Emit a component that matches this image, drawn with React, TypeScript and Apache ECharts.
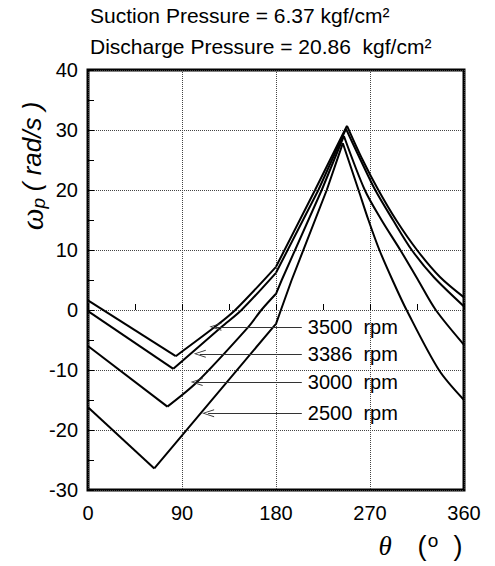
import React, { useEffect, useRef } from "react";
import * as echarts from "echarts";

const speeds = ["3500", "3386", "3000", "2500"];

const theta3500 = [0, 84, 121.6, 141, 180, 217.4, 248, 263, 278, 295, 315, 337, 360];
const omega3500 = [1.6, -7.7, -2.8, 0, 7.2, 20, 30.7, 25, 20, 15, 10, 5.5, 2.1];

const theta3386 = [0, 81.7, 128, 147, 180, 220.6, 247, 261, 275, 292, 310, 331, 360];
const omega3386 = [-0.2, -9.8, -2.8, 0, 6.2, 20, 30.2, 25, 20, 15, 10, 5.5, 0.6];

const theta3000 = [0, 76, 104.4, 153.6, 166, 180, 185.5, 223.8, 245, 265, 281, 299, 316, 333, 360];
const omega3000 = [-6, -16.1, -12, -2.8, 0, 2.7, 5, 20, 29, 20, 15, 10, 5, 0, -5.8];

const theta2500 = [0, 63.5, 177.5, 180, 184.7, 195, 228.6, 244, 259, 268.5, 279, 291.5, 305, 336, 360];
const omega2500 = [-16.2, -26.4, -2.8, -2.3, 0, 5, 20, 27.8, 20, 15, 10, 5, 0, -10, -15];

// annotation arrows: [tip theta, omega], tail theta
const arrowTips = [[122, -2.8], [107, -7.3], [104, -12], [115, -17.2]];
const arrowTail = 204.7;

const xTicks = [0, 90, 180, 270, 360];
const yTicks = [-30, -20, -10, 0, 10, 20, 30, 40];

const FONT = "'Liberation Sans', Arial, Helvetica, sans-serif";
const SERIF = "'Liberation Serif', 'DejaVu Serif', serif";

function zip(xs: number[], ys: number[]) {
  return xs.map((x, i) => [x, ys[i]]);
}

// split a curve at its kinks (minimum, 180 deg, peak)
function segments(xs: number[], ys: number[]) {
  const iMin = ys.indexOf(Math.min(...ys));
  const i180 = xs.indexOf(180);
  const iMax = ys.indexOf(Math.max(...ys));
  const cuts = [0, iMin, i180, iMax, xs.length - 1];
  const pts = zip(xs, ys);
  const segs: number[][][] = [];
  for (let k = 0; k < cuts.length - 1; k++) {
    segs.push(pts.slice(cuts[k], cuts[k + 1] + 1));
  }
  return segs;
}

export default function App() {
  const ref = useRef<HTMLDivElement>(null);
  useEffect(() => {
    if (!ref.current) return;
    const chart = echarts.init(ref.current, undefined, { renderer: "svg" });
    const curves = [
      segments(theta3500, omega3500),
      segments(theta3386, omega3386),
      segments(theta3000, omega3000),
      segments(theta2500, omega2500),
    ];
    const arrowPath = "path://M5,0L10,12L8.8,12L5,2.4L1.2,12L0,12Z";
    const series: any[] = [];
    curves.forEach((segs, i) => {
      segs.forEach((d, k) => {
        const doSmooth = (k === 1 && d.length >= 4) || k === 3;
        const s: any = {
          type: "line",
          data: d,
          showSymbol: false,
          symbol: "none",
          smooth: doSmooth ? 0.3 : false,
          lineStyle: { color: "#000", width: 2 },
          z: 3,
        };
        if (k === 0) {
          s.markLine = {
            silent: true,
            animation: false,
            symbol: [arrowPath, "none"],
            symbolSize: [8, 12],
            lineStyle: { color: "#333", width: 1, type: "solid" },
            label: {
              show: true,
              position: "end",
              distance: 6,
              formatter: speeds[i] + "  rpm",
              color: "#000",
              fontSize: 20,
              fontFamily: FONT,
            },
            data: [
              [
                { coord: [arrowTips[i][0], arrowTips[i][1]] },
                { coord: [arrowTail, arrowTips[i][1]] },
              ],
            ],
          };
        }
        series.push(s);
      });
    });
    chart.setOption({
      animation: false,
      backgroundColor: "#fff",
      grid: {
        left: 88,
        right: 31,
        top: 70,
        bottom: 76,
        show: true,
        borderColor: "#000",
        borderWidth: 3,
        containLabel: false,
      },
      xAxis: {
        type: "value",
        min: 0,
        max: 360,
        interval: 90,
        axisLine: { show: false },
        axisTick: { show: true, inside: true, length: 6, lineStyle: { color: "#000" } },
        minorTick: { show: true, splitNumber: 2, length: 6, lineStyle: { color: "#000" } },
        splitLine: { show: true, lineStyle: { color: "#444", type: "dotted", width: 1 } },
        axisLabel: {
          color: "#000",
          fontSize: 20,
          fontFamily: FONT,
          margin: 13,
          formatter: (v: number) => (xTicks.includes(v) ? String(v) : ""),
        },
      },
      yAxis: {
        type: "value",
        min: -30,
        max: 40,
        interval: 10,
        axisLine: { show: false },
        axisTick: { show: true, inside: true, length: 6, lineStyle: { color: "#000" } },
        minorTick: { show: true, splitNumber: 2, length: 6, lineStyle: { color: "#000" } },
        splitLine: { show: true, lineStyle: { color: "#444", type: "dotted", width: 1 } },
        axisLabel: {
          color: "#000",
          fontSize: 20,
          fontFamily: FONT,
          margin: 10,
          formatter: (v: number) => (yTicks.includes(v) ? String(v) : ""),
        },
      },
      series,
      graphic: [
        {
          type: "text",
          left: 90,
          top: 5,
          style: {
            text: "Suction Pressure = 6.37 kgf/cm²",
            fontSize: 21,
            fontFamily: FONT,
            fill: "#000",
          },
        },
        {
          type: "text",
          left: 90,
          top: 36,
          style: {
            text: "Discharge Pressure = 20.86  kgf/cm²",
            fontSize: 21,
            fontFamily: FONT,
            fill: "#000",
          },
        },
        {
          type: "text",
          x: 32,
          y: 166,
          rotation: Math.PI / 2,
          style: {
            text: "{w|ω}{p|p}  {u|( rad/s )}",
            align: "center",
            verticalAlign: "middle",
            fill: "#000",
            rich: {
              w: { fontSize: 31, fontStyle: "italic", fontFamily: SERIF, fill: "#000" },
              p: { fontSize: 19, fontStyle: "italic", fontFamily: FONT, fill: "#000", verticalAlign: "bottom", padding: [12, 0, 0, 0] },
              u: { fontSize: 26, fontStyle: "italic", fontFamily: FONT, fill: "#000" },
            },
          },
        },
        {
          type: "text",
          x: 385,
          y: 546,
          style: {
            text: "θ",
            align: "center",
            verticalAlign: "middle",
            fontSize: 27,
            fontStyle: "italic",
            fontFamily: SERIF,
            fill: "#000",
          },
        },
        {
          type: "text",
          x: 422,
          y: 546,
          style: { text: "(", align: "center", verticalAlign: "middle", fontSize: 27, fontFamily: FONT, fill: "#000" },
        },
        {
          type: "text",
          x: 433,
          y: 540,
          style: { text: "o", align: "center", verticalAlign: "middle", fontSize: 19, fontFamily: FONT, fill: "#000" },
        },
        {
          type: "text",
          x: 458,
          y: 546,
          style: { text: ")", align: "center", verticalAlign: "middle", fontSize: 27, fontFamily: FONT, fill: "#000" },
        },
      ],
    });
    return () => chart.dispose();
  }, []);
  return (
    <div
      ref={ref}
      style={{ position: "fixed", left: 0, top: 0, width: 495, height: 566, background: "#fff" }}
    />
  );
}
